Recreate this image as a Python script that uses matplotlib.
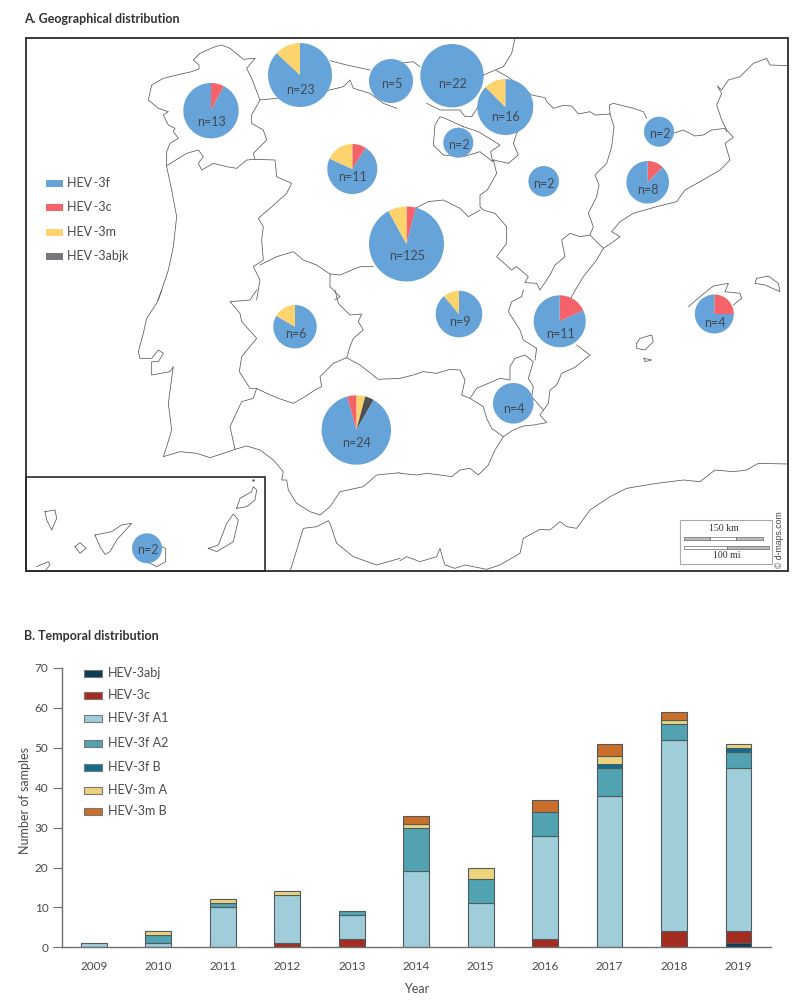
import numpy as np
import matplotlib
matplotlib.use('Agg')
import matplotlib.pyplot as plt
from matplotlib.patches import Rectangle

plt.rcParams['font.family'] = ['Lato', 'DejaVu Sans']

# ---- temporal data (panel B)
years = ['2009', '2010', '2011', '2012', '2013', '2014', '2015', '2016', '2017', '2018', '2019']
hev_3abj = [0, 0, 0, 0, 0, 0, 0, 0, 0, 0, 1]
hev_3c = [0, 0, 0, 1, 2, 0, 0, 2, 0, 4, 3]
hev_3f_a1 = [1, 1, 10, 12, 6, 19, 11, 26, 38, 48, 41]
hev_3f_a2 = [0, 2, 1, 0, 1, 11, 6, 6, 7, 4, 4]
hev_3f_b = [0, 0, 0, 0, 0, 0, 0, 0, 1, 0, 1]
hev_3m_a = [0, 1, 1, 1, 0, 1, 3, 0, 2, 1, 1]
hev_3m_b = [0, 0, 0, 0, 0, 2, 0, 3, 3, 2, 0]

bar_series = [hev_3abj, hev_3c, hev_3f_a1, hev_3f_a2, hev_3f_b, hev_3m_a, hev_3m_b]
bar_labels = ['HEV-3abj', 'HEV-3c', 'HEV-3f A1', 'HEV-3f A2', 'HEV-3f B', 'HEV-3m A', 'HEV-3m B']
bar_colors = ['#0B3C53', '#A52D1F', '#9FCDDA', '#51A3B1', '#146B8C', '#EDD37B', '#C96E2B']
bar_legend_y = [673, 695, 718.5, 743, 767, 790, 811]

# ---- geographical data (panel A), one entry per region
pie_n = [13, 23, 5, 22, 16, 2, 2, 2, 8, 11, 125, 6, 9, 11, 4, 4, 24, 2]
pie_3f = [12, 20, 5, 22, 14, 2, 2, 2, 7, 8, 110, 5, 8, 9, 3, 4, 21, 2]
pie_3c = [1, 0, 0, 0, 0, 0, 0, 0, 1, 1, 5, 0, 0, 2, 1, 0, 1, 0]
pie_3m = [0, 3, 0, 0, 2, 0, 0, 0, 0, 2, 10, 1, 1, 0, 0, 0, 1, 0]
pie_3abjk = [0, 0, 0, 0, 0, 0, 0, 0, 0, 0, 0, 0, 0, 0, 0, 0, 1, 0]
pie_x = [211, 300, 391, 452, 505.3, 458.3, 543.7, 659, 647.7, 352.3, 406.5, 295, 459, 559.7, 714.3, 513.3, 356.3, 147]
pie_y = [110.7, 75, 81, 75.7, 107, 142.7, 181.3, 131.7, 182.3, 169, 244, 326.7, 314, 321.3, 314, 403.3, 430, 548.3]
pie_r = [27.7, 32, 22, 31.7, 28, 15, 15.3, 15, 21.3, 25, 37.5, 21.7, 23.3, 26, 19.5, 20.3, 34.7, 15]
label_dy = [11, 15, 3, 8, 10, 2, 3, 2, 8, 8, 12, 7, 8, 13, 9, 6, 13, 2]

map_labels = ['HEV\u2009-3f', 'HEV\u2009-3c', 'HEV\u2009-3m', 'HEV\u2009-3abjk']
map_colors = ['#66A3D9', '#F4636A', '#FCD36C', '#4D4F53']
map_legend_colors = ['#66A3D9', '#F4636A', '#FCD36C', '#77787B']
map_legend_y = [183, 207, 232, 256]

# ---- map outlines at 3x, (offset_x, offset_y, points)
z1 = (0, 0)
z2 = (400, 0)
z3 = (0, 290)
z4 = (400, 290)

coast_galicia = (z1, [(765, 175), (730, 178), (690, 145), (665, 135), (640, 142), (600, 160), (580, 180), (597, 195), (597, 207),
                      (575, 215), (530, 225), (490, 235), (455, 255), (445, 300), (475, 325), (505, 335), (490, 345), (505, 375),
                      (525, 385), (520, 395), (535, 415), (510, 430), (500, 455), (500, 500), (515, 570), (530, 650), (520, 740),
                      (505, 810), (475, 900)])
coast_portugal = (z3, [(485, 0), (470, 40), (440, 85), (430, 130), (415, 185), (420, 205), (455, 205), (475, 180), (490, 190),
                       (475, 215), (455, 215), (455, 255), (510, 245), (520, 230), (515, 265), (505, 340), (515, 420), (500, 470),
                       (490, 500), (540, 485), (590, 490), (630, 503), (670, 490), (705, 478), (740, 468), (780, 480), (820, 510),
                       (850, 545), (845, 570), (860, 570), (865, 600), (890, 640), (930, 665), (960, 675), (990, 650), (1020, 605),
                       (1090, 590), (1130, 555), (1200, 548)])
coast_south = (z4, [(0, 550), (50, 555), (80, 550), (120, 555), (155, 560), (180, 540), (210, 535), (235, 555), (265, 525),
                    (285, 480), (310, 440), (340, 420), (370, 408), (400, 405), (440, 398), (420, 375), (445, 340), (450, 300),
                    (470, 285), (485, 250), (525, 232), (570, 195), (530, 165)])
coast_east = (z2, [(1165, 197), (1110, 195), (1100, 175), (1060, 190), (1020, 230), (985, 240), (965, 270), (952, 258), (965, 280),
                   (950, 315), (965, 360), (980, 390), (1000, 412), (975, 430), (990, 480), (960, 510), (900, 545), (855, 570),
                   (830, 605), (770, 620), (700, 640), (660, 665), (635, 695), (660, 710), (640, 725), (610, 745), (590, 780),
                   (550, 830), (520, 880), (510, 900)])
coast_north = (z1, [(990, 182), (1040, 195), (1110, 210)])
coast_north2 = (z2, [(0, 190), (40, 185), (60, 200)])
coast_france = (z2, [(345, 115), (335, 160), (310, 200), (250, 225)])
border_pyrenees = (z2, [(290, 212), (330, 235), (395, 285), (435, 293), (440, 305), (460, 325), (490, 316), (515, 318), (535, 342),
                        (570, 335), (585, 345), (630, 342), (628, 315), (640, 310), (700, 325), (730, 335), (740, 355)])
border_pyrenees2 = (z2, [(820, 400), (850, 390), (885, 408), (910, 405), (935, 390), (975, 385), (980, 395)])
border_aragon_cat = (z2, [(630, 342), (642, 380), (635, 440), (620, 490), (585, 525), (597, 555), (590, 590), (565, 640), (580, 680),
                          (570, 705), (610, 745)])
border_aragon = (z2, [(280, 480), (290, 520), (262, 570), (240, 585), (240, 620), (250, 630), (285, 640), (320, 680), (320, 730),
                      (290, 770), (335, 810), (350, 800), (385, 830), (375, 848), (410, 850), (420, 870), (450, 825), (465, 795),
                      (495, 770), (485, 720), (510, 700), (540, 710), (570, 705)])
border_navarra = (z2, [(280, 480), (325, 490), (355, 465), (340, 430), (350, 400), (395, 340)])
border_rioja = (z2, [(190, 380), (235, 395), (300, 435), (272, 455), (278, 485), (240, 455), (190, 470), (130, 465), (100, 435),
                     (105, 375), (120, 350), (135, 355), (190, 380)])
border_basque = (z2, [(80, 310), (120, 330), (180, 330), (195, 350), (215, 350), (235, 320)])
border_cast = (z2, [(240, 630), (205, 650), (180, 625), (130, 600), (85, 605), (45, 625)])
border_galicia = (z1, [(765, 175), (740, 205), (755, 235), (780, 300), (755, 345), (755, 370), (790, 390), (800, 420), (760, 460),
                       (765, 478), (740, 480), (710, 505), (680, 500), (640, 490), (605, 510), (595, 490), (610, 470), (595, 450),
                       (560, 460), (500, 497)])
border_portugal = (z1, [(765, 478), (825, 480), (830, 530), (875, 550), (860, 580), (810, 625), (775, 655), (790, 680), (785, 720),
                        (790, 780), (760, 800), (780, 840), (770, 900)])
border_portugal2 = (z3, [(770, 0), (750, 30), (690, 35), (720, 70), (725, 95), (770, 145), (725, 200), (718, 245), (750, 295),
                         (770, 295), (760, 325), (725, 335), (690, 410), (705, 478)])
border_asturias = (z1, [(780, 300), (830, 295), (990, 270), (1030, 260), (1050, 240), (1060, 265), (1110, 280), (1150, 310), (1190, 325)])
border_cyl_ext = (z1, [(780, 795), (830, 770), (880, 755), (910, 780), (950, 795), (990, 822), (1020, 825), (1080, 800), (1120, 800)])
border_ext = (z1, [(990, 822), (990, 860), (1020, 890), (1005, 900)])
border_ext2 = (z3, [(1005, 0), (1015, 40), (1050, 75), (1085, 72), (1075, 95), (1090, 120), (1060, 145), (1050, 170), (1040, 203),
                    (1000, 220), (960, 260), (965, 290), (945, 300), (915, 320), (880, 340), (835, 325), (800, 310), (770, 295)])
border_and = (z3, [(1040, 203), (1080, 225), (1135, 268), (1200, 265)])
border_and2 = (z4, [(0, 265), (40, 255), (70, 245), (110, 250), (150, 238), (180, 240), (195, 270), (185, 315), (210, 325), (250, 350),
                    (260, 385), (275, 415), (310, 440)])
border_murcia = (z4, [(210, 325), (230, 295), (300, 265), (330, 270), (330, 230), (345, 205), (375, 195), (400, 215), (385, 265),
                      (400, 290), (395, 320), (430, 360)])
border_val = (z4, [(405, 210), (410, 175), (370, 150), (360, 120), (325, 65), (335, 35), (365, 20), (370, 0)])

mallorca = (z4, [(865, 50), (900, 20), (925, 0), (940, -12), (985, -20), (975, 5), (1020, 10), (1025, 25), (1000, 45)])
menorca = (z2, [(1070, 835), (1105, 828), (1135, 850), (1140, 875), (1095, 855), (1065, 850), (1070, 835)])
ibiza = (z4, [(710, 160), (720, 145), (755, 135), (760, 155), (735, 180), (710, 175), (710, 160)])
formentera = (z4, [(732, 205), (755, 210), (735, 215), (732, 205)])
africa = (z4, [(1165, 522), (1075, 520), (1040, 540), (1000, 545), (945, 540), (900, 575), (850, 570), (770, 580), (680, 595),
               (630, 620), (570, 660), (530, 715), (500, 710), (480, 695), (450, 720), (420, 718), (370, 745), (360, 790),
               (300, 825), (260, 838), (195, 825), (165, 835), (135, 825), (130, 810), (120, 775), (110, 800), (60, 815),
               (20, 800), (0, 812)])
africa2 = (z3, [(1200, 805), (1130, 825), (1060, 800), (1010, 760), (990, 700), (985, 692), (950, 710), (910, 715), (870, 845)])

la_palma = (z3, [(135, 665), (165, 660), (170, 685), (155, 720), (140, 690), (135, 665)])
gomera = (z3, [(225, 770), (240, 758), (258, 775), (240, 790), (225, 770)])
tenerife = (z3, [(285, 735), (335, 725), (365, 705), (395, 700), (350, 750), (330, 785), (315, 793), (300, 770), (285, 735)])
hierro = (z3, [(110, 830), (145, 815), (150, 825), (135, 843)])
gran_canaria = (z3, [(485, 770), (497, 775), (497, 815), (470, 830), (440, 815)])
lanzarote = (z3, [(710, 655), (720, 625), (755, 605), (760, 590), (770, 600), (765, 630), (740, 650), (710, 655)])
fuerteventura = (z3, [(625, 775), (655, 765), (680, 700), (700, 672), (715, 690), (700, 755), (650, 785), (625, 775)])

outlines = [coast_galicia, coast_portugal, coast_south, coast_east, coast_north, coast_north2, coast_france, border_pyrenees,
            border_pyrenees2, border_aragon_cat, border_aragon, border_navarra, border_rioja, border_basque, border_cast,
            border_galicia, border_portugal, border_portugal2, border_asturias, border_cyl_ext, border_ext, border_ext2,
            border_and, border_and2, border_murcia, border_val, mallorca, menorca, ibiza, formentera, africa, africa2,
            la_palma, gomera, tenerife, hierro, gran_canaria, lanzarote, fuerteventura]

text_col = '#4A4A4C'
axis_col = '#6D6E71'

fig = plt.figure(figsize=(7.98, 10.08), dpi=100)

# map panel is drawn in picture pixels, y going down
ax = fig.add_axes([0, 0, 1, 1])
ax.set_xlim(0, 798)
ax.set_ylim(1008, 0)

frame = Rectangle((25.5, 37.8), 762.5, 533, fill=False, ec='#2B2B2B', lw=1.3, zorder=4)
ax.add_patch(frame)
ax.add_patch(Rectangle((25.5, 477), 239.5, 94, fill=False, ec='#2B2B2B', lw=1.2, zorder=4))

for (ox, oy), pts in outlines:
    pts = np.array(pts) / 3.0
    line, = ax.plot(pts[:, 0] + ox, pts[:, 1] + oy, color='#5A5A5A', lw=0.55, zorder=1, solid_joinstyle='round')
    line.set_clip_path(frame)
ax.plot([252.7], [480], '.', color='#555555', ms=1.5)

for i in range(len(pie_n)):
    if pie_3abjk[i] > 0:
        vals = [pie_3m[i], pie_3abjk[i], pie_3f[i], pie_3c[i]]
        cols = [map_colors[2], map_colors[3], map_colors[0], map_colors[1]]
    else:
        vals = [pie_3c[i], pie_3f[i], pie_3m[i]]
        cols = [map_colors[1], map_colors[0], map_colors[2]]
    # the y axis is flipped, so counterclock here runs clockwise on the page
    ax.pie(vals, colors=cols, center=(pie_x[i], pie_y[i]), radius=pie_r[i], startangle=-90, counterclock=True,
           frame=True, wedgeprops={'zorder': 2, 'lw': 0})
    ax.text(pie_x[i] + 0.5, pie_y[i] + label_dy[i], 'n=' + str(pie_n[i]), ha='center', va='center', fontsize=9,
            color='#3F4A55', zorder=3)

ax.set_xlim(0, 798)
ax.set_ylim(1008, 0)
ax.axis('off')

for lab, col, y in zip(map_labels, map_legend_colors, map_legend_y):
    ax.add_patch(Rectangle((45.5, y - 3.5), 17.5, 7, fc=col, ec='none'))
    ax.text(67, y, lab, ha='left', va='center', fontsize=9, color=text_col)

# scale box
ax.add_patch(Rectangle((680, 520), 91.7, 44.3, fill=False, ec='#AAAAAA', lw=0.8))
ax.text(724, 528.5, '150 km', ha='center', va='center', fontsize=7, family='Liberation Serif', color='#333333')
ax.text(727, 555.5, '100 mi', ha='center', va='center', fontsize=7, family='Liberation Serif', color='#333333')
for x0, w, col in [(684, 26, '#BBBBBB'), (710, 26, 'white'), (736, 26.5, '#BBBBBB')]:
    ax.add_patch(Rectangle((x0, 537), w, 3, fc=col, ec='#666666', lw=0.5))
for x0, w, col in [(684, 42.5, 'white'), (726.5, 42, '#BBBBBB')]:
    ax.add_patch(Rectangle((x0, 545.5), w, 3, fc=col, ec='#666666', lw=0.5))
ax.text(779.3, 539.5, '© d-maps.com', rotation=90, ha='center', va='center', fontsize=6.3, family='Liberation Sans',
        color='#444444')

fig.text(24 / 798, 1 - 19 / 1008, 'A. Geographical distribution', fontsize=9, fontweight='bold', color='#333333',
         ha='left', va='center')
fig.text(24 / 798, 1 - 636 / 1008, 'B. Temporal distribution', fontsize=9, fontweight='bold', color='#333333',
         ha='left', va='center')

# bar panel
ax2 = fig.add_axes([61.7 / 798, (1008 - 947.3) / 1008, 709 / 798, 279.3 / 1008])
ax2.patch.set_alpha(0)
xpos = np.arange(len(years))
bottom = np.zeros(len(years))
for vals, lab, col in zip(bar_series, bar_labels, bar_colors):
    vals = np.array(vals)
    keep = vals > 0
    ax2.bar(xpos[keep], vals[keep], 0.4, bottom=bottom[keep], color=col, edgecolor='#4F5B60', linewidth=0.8, label=lab)
    bottom = bottom + vals

ax2.set_xlim(-0.5, 10.5)
ax2.set_ylim(0, 70)
ax2.set_xticks(xpos)
ax2.set_xticklabels(years)
ax2.set_yticks(range(0, 71, 10))
ax2.tick_params(axis='x', length=0, pad=10, labelsize=8.5, labelcolor=text_col)
ax2.tick_params(axis='y', length=6.5, width=0.8, color=axis_col, pad=3, labelsize=8.5, labelcolor=text_col)
for s in ['top', 'right']:
    ax2.spines[s].set_visible(False)
for s in ['left', 'bottom']:
    ax2.spines[s].set_color(axis_col)
    ax2.spines[s].set_linewidth(1)
ax2.set_xlabel('Year', fontsize=9, color=text_col, labelpad=8)
ax2.set_ylabel('Number of samples', fontsize=9, color=text_col, labelpad=3, y=0.527)

for lab, col, y in zip(bar_labels, bar_colors, bar_legend_y):
    ax.add_patch(Rectangle((84, y - 3.5), 18, 7, fc=col, ec='#777777', lw=0.8))
    ax.text(107.5, y, lab, ha='left', va='center', fontsize=9, color=text_col)

fig.savefig('out.png', dpi=100)
